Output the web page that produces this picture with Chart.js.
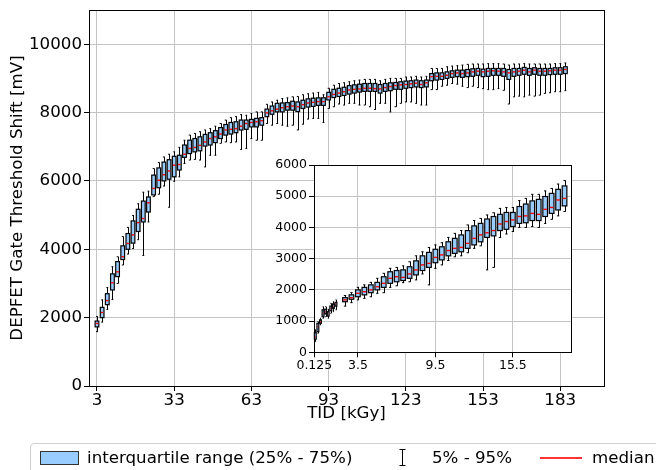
<!DOCTYPE html>
<html><head><meta charset="utf-8">
<script src="https://cdn.jsdelivr.net/npm/chart.js@4.4.0/dist/chart.umd.min.js"></script>
<style>
html,body{margin:0;padding:0;background:#fff;}
#wrap{position:relative;width:656px;height:470px;overflow:hidden;background:#fff;font-family:"DejaVu Sans";}
canvas{position:absolute;}
.lg{position:absolute;font-size:16.67px;line-height:20px;color:#000;white-space:nowrap;font-family:"DejaVu Sans";}
</style></head><body>
<div id="wrap">
<canvas id="main" width="656" height="470" style="left:0;top:0"></canvas>
<canvas id="inset" width="330" height="232" style="left:262px;top:148px"></canvas>
<div style="position:absolute;left:30px;top:443px;width:700px;height:40px;border:1px solid #d0d0d0;border-radius:4px;background:rgba(255,255,255,0.8)"></div>
<div style="position:absolute;left:40px;top:451px;width:37px;height:12px;background:#99ccff;border:1px solid #333;"></div>
<div class="lg" style="left:87px;top:448px">interquartile range (25% - 75%)</div>
<svg style="position:absolute;left:397px;top:448px" width="11" height="19"><path d="M2.5 1.5H8.5M5.5 1.5V17.5M2.5 17.5H8.5" stroke="#000" stroke-width="1" fill="none"/></svg>
<div class="lg" style="left:432px;top:448px">5% - 95%</div>
<div style="position:absolute;left:540px;top:457px;width:42px;height:1.5px;background:#f33"></div>
<div class="lg" style="left:592px;top:448px">median</div>
</div>
<script>
// ---------- main chart data (TID in kGy, values in mV) ----------
const mainPos = [3,5,7,9,11,13,15,17,19,21,23,25,27,29,31,33,35,37,39,41,43,45,47,49,51,53,55,57,59,61,63,65,67,69,71,73,75,77,79,81,83,85,87,89,91,93,95,97,99,101,103,105,107,109,111,113,115,117,119,121,123,125,127,129,131,133,135,137,139,141,143,145,147,149,151,153,155,157,159,161,163,165,167,169,171,173,175,177,179,181,183,185];
const mainP5 = [1590,1870,2240,2530,3000,3540,3860,4020,4280,3820,4800,5540,5610,5850,5230,5990,
 6120,6510,6610,6630,6610,6410,6750,6750,7100,7140,7120,7140,6920,6950,7240,7190,7190,
 7680,7630,7680,7630,7600,7630,7490,7660,7810,7830,7830,7710,
 8120,8170,8250,8220,8270,8270,8220,8220,8170,8090,8270,8270,8020,8170,8270,8310,8310,8270,8220,8220,
 8670,8670,8770,8800,8850,8830,8770,8730,8770,8730,8700,8670,8670,8700,8650,8250,8460,8480,8460,8510,8480,8510,8560,8580,8610,8610,8640];
const mainQ1 = [1730,2000,2380,2810,3200,3700,4000,4180,4520,4800,5090,5590,5800,6000,6050,6120,
 6320,6690,6800,6850,6880,7020,7050,7120,7240,7340,7370,7410,7490,7510,7580,7580,7630,
 7880,7950,8020,8020,8070,8070,8030,8120,8160,8180,8210,8210,
 8370,8440,8470,8500,8540,8570,8600,8620,8620,8620,8570,8620,8640,8680,8680,8710,8730,8750,8730,8750,
 8930,8950,8970,9000,9030,9050,9030,9050,9060,9090,9050,9060,9090,9090,9060,8970,9060,9090,9120,9090,9120,9090,9090,9110,9120,9120,9140];
const mainMed = [1830,2150,2500,3020,3340,3780,4170,4420,4780,4900,5360,5780,6020,6180,6290,6460,
 6480,6780,6950,6980,7040,7140,7240,7290,7370,7490,7510,7530,7600,7680,7710,7730,7760,
 7990,8050,8100,8140,8170,8190,8170,8230,8280,8300,8320,8320,
 8460,8530,8570,8610,8660,8680,8690,8710,8710,8700,8690,8730,8760,8790,8810,8820,8840,8860,8820,8870,
 9050,9060,9060,9090,9140,9160,9140,9160,9190,9210,9190,9210,9220,9210,9190,9160,9190,9210,9240,9190,9240,9210,9210,9220,9240,9240,9260];
const mainQ3 = [1900,2300,2700,3280,3640,4100,4460,4830,5170,5410,5530,6170,6380,6550,6620,6720,
 6750,7050,7190,7240,7290,7360,7410,7470,7560,7650,7710,7730,7780,7780,7800,7830,7850,
 8100,8190,8270,8280,8290,8330,8310,8360,8400,8420,8430,8430,
 8590,8680,8710,8740,8790,8810,8830,8850,8850,8850,8820,8850,8870,8880,8900,8920,8930,8950,8930,8950,
 9140,9160,9160,9190,9220,9240,9240,9260,9280,9290,9270,9290,9290,9290,9290,9260,9290,9290,9320,9290,9310,9290,9290,9290,9310,9310,9340];
const mainP95 = [2030,2520,2880,3490,3780,4370,4640,4990,5330,5670,5700,6360,6540,6700,6780,6850,
 6980,7190,7340,7390,7440,7490,7530,7600,7680,7780,7850,7880,7940,7920,7970,8020,8020,
 8240,8310,8360,8410,8430,8460,8470,8520,8550,8570,8590,8520,
 8710,8800,8850,8870,8900,8930,8950,8970,8970,8970,8930,8970,9000,9000,9000,9040,9040,9060,9040,9060,
 9290,9290,9290,9340,9360,9370,9390,9410,9420,9420,9420,9430,9430,9430,9420,9390,9420,9420,9430,9420,9420,9420,9420,9420,9430,9430,9450];
const mainXTicks = [3,33,63,93,123,153,183];
const mainYTicks = [0,2000,4000,6000,8000,10000];

// ---------- inset chart data ----------
const insetPos = [0.2,0.4,0.6,0.8,1.0,1.2,1.4,1.6,1.8,2.5,3,3.5,4,4.5,5,5.5,6,6.5,7,7.5,8,8.5,9,9.5,10,10.5,11,11.5,12,12.5,13,13.5,14,14.5,15,15.5,16,16.5,17,17.5,18,18.5,19,19.5];
const insetP5 = [340,610,880,1090,1140,1090,1250,1300,1360,1480,1590,1680,1730,1780,1890,1910,2080,2130,2230,2260,2320,2510,2160,2690,2800,2940,3060,3090,3190,3330,3410,2640,2720,3680,3790,3870,4000,4000,4030,4000,4130,4260,4370,4510];
const insetQ1 = [420,660,930,1140,1230,1160,1330,1410,1480,1620,1700,1780,1840,1910,2000,2080,2210,2260,2300,2370,2480,2620,2720,2870,2960,3090,3170,3220,3330,3440,3540,3680,3730,3900,3940,4030,4130,4150,4220,4220,4350,4450,4560,4690];
const insetMed = [500,820,980,1250,1300,1230,1410,1480,1550,1680,1750,1890,1940,2000,2100,2210,2370,2420,2400,2510,2640,2800,2850,3040,3120,3260,3330,3360,3490,3650,3760,3830,3900,4110,4190,4240,4350,4370,4450,4420,4580,4640,4880,4930];
const insetQ3 = [630,930,1040,1360,1380,1300,1480,1550,1600,1750,1840,2000,2080,2160,2240,2420,2580,2620,2640,2740,2930,3090,3200,3300,3380,3540,3650,3760,3900,4050,4130,4270,4350,4420,4480,4480,4670,4750,4850,4900,4990,5090,5220,5330];
const insetP95 = [720,980,1090,1460,1460,1380,1570,1620,1680,1820,1910,2080,2160,2240,2370,2530,2690,2720,2770,2900,3090,3220,3360,3440,3510,3680,3810,3900,4080,4220,4290,4400,4470,4610,4640,4640,4860,4930,5060,5060,5170,5250,5390,5500];
const insetXTicks = [0.125,3.5,9.5,15.5];
const insetXLabels = ['0.125','3.5','9.5','15.5'];
const insetYTicks = [0,1000,2000,3000,4000,5000,6000];

function toBoxes(pos, p5, q1, med, q3, p95) {
  return pos.map((x, i) => ({x: x, y: med[i], p5: p5[i], q1: q1[i], q3: q3[i], p95: p95[i]}));
}

const boxPlugin = {
  id: 'boxplot',
  beforeDraw(chart, args, opts) {
    if (opts.whiteArea) {
      const a = chart.chartArea, ctx = chart.ctx;
      ctx.save(); ctx.fillStyle = '#fff';
      ctx.fillRect(a.left, a.top, a.right - a.left, a.bottom - a.top);
      ctx.restore();
    }
  },
  afterDatasetsDraw(chart, args, opts) {
    const ctx = chart.ctx, xs = chart.scales.x, ys = chart.scales.y;
    const pts = chart.data.datasets[0].data;
    ctx.save();
    pts.forEach((p, i) => {
      const prev = i > 0 ? p.x - pts[i-1].x : Infinity;
      const next = i < pts.length - 1 ? pts[i+1].x - p.x : Infinity;
      const w = Math.min(prev, next) * opts.widthFrac;
      const xc = Math.round(xs.getPixelForValue(p.x)) + 0.5;
      const xl = xs.getPixelForValue(p.x - w/2), xr = xs.getPixelForValue(p.x + w/2);
      const cl = xs.getPixelForValue(p.x - w/4), cr = xs.getPixelForValue(p.x + w/4);
      const y5 = ys.getPixelForValue(p.p5), y1 = ys.getPixelForValue(p.q1);
      const ym = ys.getPixelForValue(p.y), y3 = ys.getPixelForValue(p.q3), y95 = ys.getPixelForValue(p.p95);
      ctx.lineWidth = 1;
      ctx.strokeStyle = '#000';
      ctx.beginPath();
      ctx.moveTo(xc, y3); ctx.lineTo(xc, y95);
      ctx.moveTo(xc, y1); ctx.lineTo(xc, y5);
      ctx.moveTo(cl, y95); ctx.lineTo(cr, y95);
      ctx.moveTo(cl, y5); ctx.lineTo(cr, y5);
      ctx.stroke();
      ctx.fillStyle = opts.fill;
      ctx.fillRect(xl, y3, xr - xl, y1 - y3);
      ctx.lineWidth = 1.2;
      ctx.strokeStyle = '#000';
      ctx.strokeRect(xl, y3, xr - xl, y1 - y3);
      ctx.lineWidth = 1.4;
      ctx.strokeStyle = opts.median;
      ctx.beginPath(); ctx.moveTo(xl + 0.6, ym); ctx.lineTo(xr - 0.6, ym); ctx.stroke();
    });
    const a = chart.chartArea;
    ctx.strokeStyle = '#000';
    ctx.lineWidth = 1;
    ctx.strokeRect(Math.round(a.left) + 0.5, Math.round(a.top) + 0.5, Math.round(a.right) - Math.round(a.left), Math.round(a.bottom) - Math.round(a.top));
    ctx.restore();
  }
};

Chart.defaults.font.family = 'DejaVu Sans';
Chart.defaults.color = '#000';

function zeroPad(s) { s.paddingLeft = 0; s.paddingRight = 0; s.paddingTop = 0; s.paddingBottom = 0; }

const gridColor = '#c4c4c4';

new Chart(document.getElementById('main'), {
  type: 'scatter',
  data: { datasets: [{ data: toBoxes(mainPos, mainP5, mainQ1, mainMed, mainQ3, mainP95), pointRadius: 0, pointHoverRadius: 0 }] },
  plugins: [boxPlugin],
  options: {
    responsive: false, animation: false, events: [],
    layout: { padding: { left: 0, top: 10, right: 52, bottom: 44 } },
    plugins: { legend: { display: false }, tooltip: { enabled: false },
      boxplot: { widthFrac: 0.72, fill: '#99ccff', median: '#ff0000', whiteArea: false } },
    scales: {
      x: {
        type: 'linear', min: -0.1, max: 200,
        afterBuildTicks: s => { s.ticks = mainXTicks.map(v => ({ value: v })); },
        afterFit: s => { s.height = 40; zeroPad(s); },
        ticks: { font: { size: 16.67 }, padding: 0, maxRotation: 0, autoSkip: false, callback: v => String(v) },
        grid: { color: gridColor, lineWidth: 1, tickColor: '#000', tickLength: 5 },
        border: { display: false },
        title: { display: true, text: 'TID [kGy]', font: { size: 16.67 }, padding: { top: 0, bottom: 2 } }
      },
      y: {
        type: 'linear', min: 0, max: 11000,
        afterBuildTicks: s => { s.ticks = mainYTicks.map(v => ({ value: v })); },
        afterFit: s => { s.width = 89; zeroPad(s); },
        ticks: { font: { size: 16.67 }, padding: 2, autoSkip: false, callback: v => String(v) },
        grid: { color: gridColor, lineWidth: 1, tickColor: '#000', tickLength: 5 },
        border: { display: false },
        title: { display: true, text: 'DEPFET Gate Threshold Shift [mV]', font: { size: 16.67 }, padding: { top: 8, bottom: 0 } }
      }
    }
  }
});

new Chart(document.getElementById('inset'), {
  type: 'scatter',
  data: { datasets: [{ data: toBoxes(insetPos, insetP5, insetQ1, insetMed, insetQ3, insetP95), pointRadius: 0, pointHoverRadius: 0 }] },
  plugins: [boxPlugin],
  options: {
    responsive: false, animation: false, events: [],
    layout: { padding: { left: 0, top: 17, right: 21, bottom: 0 } },
    plugins: { legend: { display: false }, tooltip: { enabled: false },
      boxplot: { widthFrac: 0.72, fill: '#99ccff', median: '#ff0000', whiteArea: true } },
    scales: {
      x: {
        type: 'linear', min: 0.1, max: 20,
        afterBuildTicks: s => { s.ticks = insetXTicks.map(v => ({ value: v })); },
        afterFit: s => { s.height = 27.7; zeroPad(s); },
        ticks: { font: { size: 12.5 }, padding: 1, maxRotation: 0, autoSkip: false,
          callback: v => { const k = insetXTicks.indexOf(v); return k >= 0 ? insetXLabels[k] : String(v); } },
        grid: { color: gridColor, lineWidth: 1, tickColor: '#000', tickLength: 5 },
        border: { display: false }
      },
      y: {
        type: 'linear', min: 0, max: 6000,
        afterBuildTicks: s => { s.ticks = insetYTicks.map(v => ({ value: v })); },
        afterFit: s => { s.width = 52; zeroPad(s); },
        ticks: { font: { size: 12.5 }, padding: 2, autoSkip: false, callback: v => String(v) },
        grid: { color: gridColor, lineWidth: 1, tickColor: '#000', tickLength: 5 },
        border: { display: false }
      }
    }
  }
});
</script>
</body></html>
